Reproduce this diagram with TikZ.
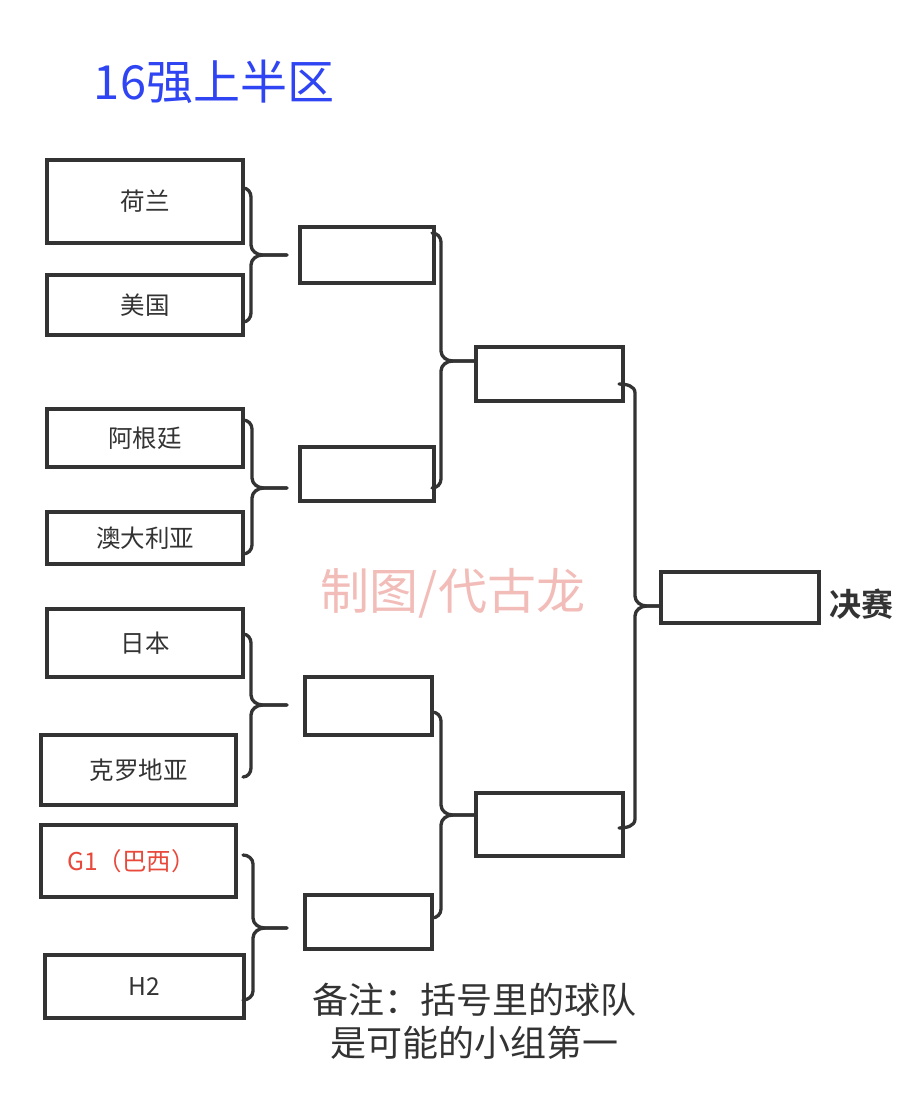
\documentclass[tikz,border=0pt]{standalone}
\usepackage{fontspec}
\setmainfont{Noto Sans CJK SC}
\newfontfamily\cjkbold{Noto Sans CJK SC Bold}
\definecolor{ink}{HTML}{333333}
\definecolor{titleblue}{HTML}{2F44F2}
\definecolor{wmpink}{HTML}{F2BDB8}
\definecolor{teamred}{HTML}{E8493A}
\tikzset{
  box/.style={draw=ink, line width=3.3pt, inner sep=0pt, font=\fontsize{24.5}{27}\selectfont, text=ink},
  conn/.style={draw=ink, line width=3.3pt, line cap=round, line join=round},
}
\newcommand\brkt[6]{%
  \draw[conn] (#1,#2) to[out=0,in=90] (#4,#2+9) -- (#4,#6-10) to[out=-90,in=180] (#4+12,#6) -- (#5,#6);
  \draw[conn] (#1,#3) to[out=0,in=-90] (#4,#3-9) -- (#4,#6+10) to[out=90,in=180] (#4+12,#6) -- (#5,#6);
}
\begin{document}
\begin{tikzpicture}[x=1pt,y=-1pt]
\useasboundingbox[fill=white] (0,0) rectangle (906,1118);
% title
\node[text=titleblue, font=\fontsize{47}{52}\selectfont] (title) at (214,82) {16强上半区};
% round 1
\node[box, minimum width=196, minimum height=83] (nl) at (145,201.5) {荷兰};
\node[box, minimum width=196, minimum height=60] (us) at (145,305) {美国};
\node[box, minimum width=196, minimum height=58] (ar) at (145,438) {阿根廷};
\node[box, minimum width=196, minimum height=52] (au) at (145,538) {澳大利亚};
\node[box, minimum width=196, minimum height=68] (jp) at (145,643) {日本};
\node[box, minimum width=195, minimum height=70] (hr) at (138.5,770) {克罗地亚};
\node[box, minimum width=195, minimum height=72, text=teamred] (g1) at (138.5,861) {\hspace*{-14pt}G1（巴西）};
\node[box, minimum width=199, minimum height=63] (h2) at (144.5,986.5) {H2};
% round 2
\node[box, minimum width=134, minimum height=56] (r2a) at (367,255) {};
\node[box, minimum width=134, minimum height=54] (r2b) at (367,474) {};
\node[box, minimum width=127, minimum height=58] (r2c) at (368.5,706) {};
\node[box, minimum width=127, minimum height=54] (r2d) at (368.5,922) {};
% round 3
\node[box, minimum width=147, minimum height=54] (r3a) at (549.5,374) {};
\node[box, minimum width=147, minimum height=63] (r3b) at (549.5,824.5) {};
% final
\node[box, minimum width=158, minimum height=51] (fin) at (740,597.5) {};
\node[text=ink, font=\cjkbold\fontsize{32}{35}\selectfont, anchor=west] (finlbl) at (826,604) {决赛};
% brackets
\brkt{243}{188}{322}{251}{287}{255}
\brkt{243}{420}{554}{252}{287}{488}
\brkt{243}{634}{777}{251}{287}{705}
\brkt{243}{855}{1000}{253}{287}{928}
\brkt{432}{233}{488}{441}{476}{361}
\brkt{432}{712}{918}{441}{476}{815}
\brkt{619}{384}{828}{635}{661}{606}
% watermark
\node[text=wmpink, font=\fontsize{49}{53}\selectfont] (wm) at (453,593) {制图/代古龙};
% note
\node[text=ink, font=\fontsize{36}{43}\selectfont, align=center] (note) at (474,1021) {备注：括号里的球队\\是可能的小组第一};
\end{tikzpicture}
\end{document}
